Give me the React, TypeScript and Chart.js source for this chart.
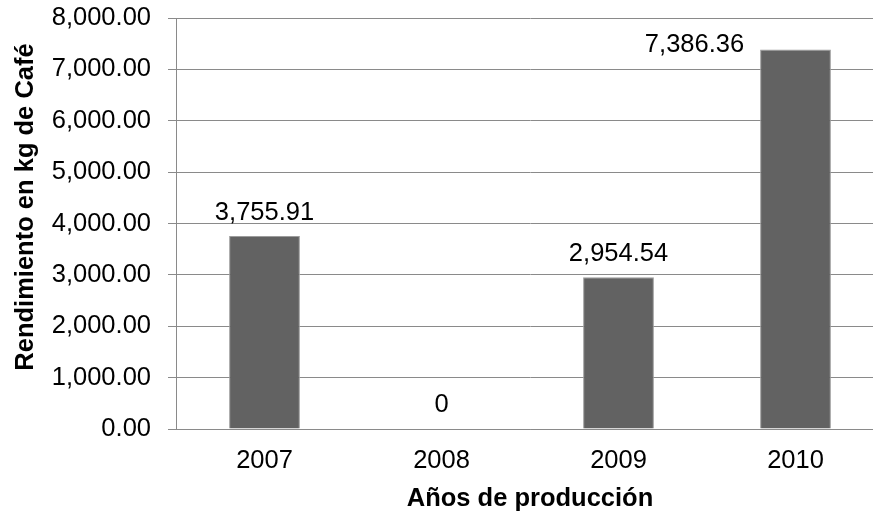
import React, { useEffect, useRef } from "react";
import { Chart, registerables } from "chart.js";

Chart.register(...registerables);

// ---- data ----
const categories = ["2007", "2008", "2009", "2010"];
const yieldValues = [3755.91, 0, 2954.54, 7386.36];
const valueLabels = ["3,755.91", "0", "2,954.54", "7,386.36"];
const yAxisTitle = "Rendimiento en kg de Café";
const xAxisTitle = "Años de producción";

// ---- layout of the value labels (one was moved by hand in the original) ----
const labelDx = [0, 0, 0, -101];
const labelDy = [-16, -17, -16, 2];

const FONT = "'Liberation Sans', Arial, sans-serif";
const FS = 25.5;
const GRID = "#8a8a8a";

const fmt = (v: number) =>
  v.toLocaleString("en-US", { minimumFractionDigits: 2, maximumFractionDigits: 2 });

const valueLabelPlugin = {
  id: "valueLabels",
  afterDatasetsDraw(chart: any) {
    const ctx = chart.ctx;
    const meta = chart.getDatasetMeta(0);
    ctx.save();
    ctx.font = `${FS}px ${FONT}`;
    ctx.fillStyle = "#000";
    ctx.textAlign = "center";
    ctx.textBaseline = "alphabetic";
    meta.data.forEach((bar: any, i: number) => {
      ctx.fillText(valueLabels[i], bar.x + labelDx[i], bar.y + labelDy[i]);
    });
    ctx.restore();
  },
};

const yTitlePlugin = {
  id: "yTitle",
  afterDraw(chart: any) {
    const ctx = chart.ctx;
    ctx.save();
    ctx.translate(26, chart.chartArea.top + 189);
    ctx.rotate(-Math.PI / 2);
    ctx.font = `bold ${FS}px ${FONT}`;
    ctx.fillStyle = "#000";
    ctx.textAlign = "center";
    ctx.textBaseline = "middle";
    ctx.fillText(yAxisTitle, 0, 0);
    ctx.restore();
  },
};

export default function App() {
  const ref = useRef<HTMLCanvasElement | null>(null);

  useEffect(() => {
    if (!ref.current) return;
    const chart = new Chart(ref.current, {
      type: "bar",
      data: {
        labels: categories,
        datasets: [
          {
            data: yieldValues,
            backgroundColor: "#626262",
            borderColor: "#9c9c9c",
            borderWidth: 1,
            barPercentage: 0.4,
            categoryPercentage: 1,
          },
        ],
      },
      options: {
        responsive: false,
        animation: false,
        devicePixelRatio: 1,
        layout: { padding: { top: 18, right: 6, bottom: 0, left: 0 } },
        plugins: {
          legend: { display: false },
          tooltip: { enabled: false },
        },
        scales: {
          x: {
            grid: { display: false, drawTicks: false },
            border: { display: true, color: GRID, width: 1 },
            ticks: {
              color: "#000",
              font: { family: FONT, size: FS },
              padding: 17,
            },
            title: {
              display: true,
              text: xAxisTitle,
              color: "#000",
              font: { family: FONT, size: FS, weight: "bold" },
              padding: { top: 0, bottom: 0 },
            },
            afterFit(scale: any) {
              scale.height = 85;
              scale.paddingLeft = 0;
              scale.paddingRight = 0;
            },
          },
          y: {
            min: 0,
            max: 8000,
            grid: { color: GRID, lineWidth: 1, tickLength: 8, drawTicks: true },
            border: { display: true, color: GRID, width: 1 },
            ticks: {
              stepSize: 1000,
              color: "#000",
              font: { family: FONT, size: FS },
              padding: 17,
              callback: (v: any) => fmt(Number(v)),
            },
            afterFit(scale: any) {
              scale.width = 176;
              scale.paddingTop = 0;
              scale.paddingBottom = 0;
            },
          },
        },
      },
      plugins: [valueLabelPlugin, yTitlePlugin],
    });
    return () => chart.destroy();
  }, []);

  return (
    <div
      style={{
        position: "fixed",
        left: 0,
        top: 0,
        width: 873,
        height: 514,
        overflow: "hidden",
        background: "#fff",
      }}
    >
      <canvas ref={ref} width={890} height={514} style={{ width: 890, height: 514, display: "block" }} />
    </div>
  );
}
